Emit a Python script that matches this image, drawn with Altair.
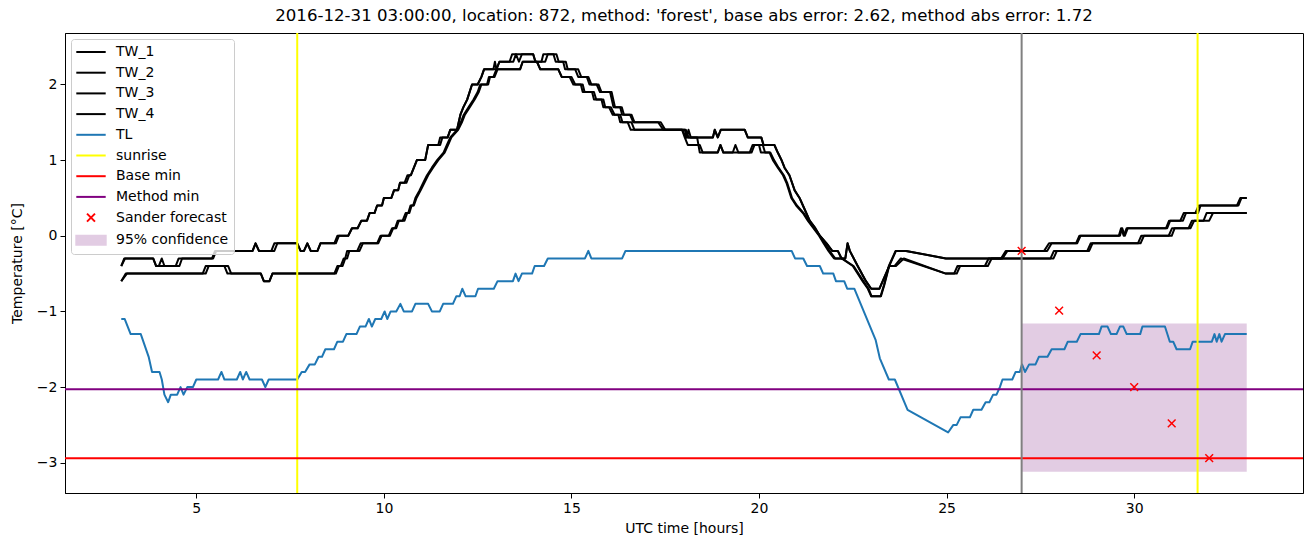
import altair as alt
import pandas as pd

TITLE = "2016-12-31 03:00:00, location: 872, method: 'forest', base abs error: 2.62, method abs error: 1.72"

TW_1 = [(3.00,-0.4),(3.08,-0.3),(3.85,-0.3),(3.93,-0.4),(4.00,-0.4),(4.08,-0.3),(4.15,-0.4),(4.45,-0.4),(4.53,-0.3),
        (5.42,-0.3),(5.50,-0.2),(6.50,-0.2),(6.58,-0.1),(6.67,-0.2),(7.00,-0.2),(7.08,-0.1),(7.69,-0.1),(7.78,-0.2),
        (7.87,-0.2),(7.96,-0.1),(8.05,-0.2),(8.23,-0.2),(8.31,-0.1),(8.68,-0.1),(8.76,0.0),(9.05,0.0),(9.15,0.1),
        (9.30,0.1),(9.40,0.2),(9.55,0.2),(9.62,0.3),(9.75,0.3),(9.82,0.4),(9.95,0.4),(10.00,0.5),(10.20,0.5),
        (10.27,0.6),(10.38,0.6),(10.43,0.7),(10.55,0.7),(10.63,0.8),(10.72,0.8),(10.80,0.9),(10.88,1.0),(11.10,1.0),
        (11.18,1.2),(11.45,1.2),(11.50,1.3),(11.70,1.3),(11.77,1.4),(11.95,1.4),(12.04,1.6),(12.12,1.7),(12.22,1.8),
        (12.35,2.0),(12.50,2.0),(12.60,2.1),(12.67,2.2),(12.92,2.2),(12.96,2.3),(13.00,2.2),(13.08,2.3),(13.35,2.3),
        (13.42,2.4),(13.98,2.4),(14.04,2.3),(14.20,2.3),(14.25,2.4),(14.52,2.4),(14.58,2.3),(14.78,2.3),(14.83,2.2),
        (15.10,2.2),(15.18,2.1),(15.41,2.1),(15.48,2.0),(15.67,2.0),(15.76,1.9),(16.03,1.9),(16.12,1.7),(16.30,1.7),
        (16.35,1.6),(16.56,1.6),(16.65,1.5),(17.31,1.5),(17.45,1.4),(18.02,1.4),(18.07,1.3),(18.12,1.4),(18.18,1.3),
        (18.77,1.3),
        (18.82,1.4),(18.90,1.3),(18.98,1.4),(19.62,1.4),(19.70,1.3),(20.06,1.3),(20.12,1.2),(20.41,1.2),(20.50,1.1),
        (20.60,1.0),(20.68,0.9),(20.81,0.8),(20.95,0.6),(21.08,0.5),(21.17,0.4),(21.35,0.2),(21.50,0.1),(21.62,0.0),
        (21.80,-0.1),(21.95,-0.2),(22.10,-0.2),(22.20,-0.3),(22.30,-0.3),(22.36,-0.1),(22.42,-0.2),(22.63,-0.4),
        (22.85,-0.6),(22.99,-0.7),(23.21,-0.7),(23.47,-0.4),(23.61,-0.4),(23.78,-0.3),(24.98,-0.5),(25.20,-0.5),
        (25.29,-0.4),(26.10,-0.4),(26.20,-0.3),(27.77,-0.3),(27.86,-0.2),(28.75,-0.2),(28.84,-0.1),(30.17,-0.1),
        (30.26,0.0),(30.92,0.0),(31.01,0.1),(31.45,0.1),(31.54,0.2),(31.85,0.2),(31.93,0.3),(33.00,0.3)]

TW_2 = [(3.00,-0.4),(3.10,-0.3),(3.85,-0.3),(3.93,-0.4),(4.55,-0.4),(4.62,-0.3),(5.45,-0.3),(5.53,-0.2),(6.50,-0.2),
        (6.58,-0.1),(6.67,-0.2),(7.08,-0.2),(7.16,-0.1),(7.69,-0.1),(7.78,-0.2),(7.87,-0.2),(7.96,-0.1),(8.05,-0.2),
        (8.23,-0.2),(8.31,-0.1),(8.72,-0.1),(8.80,0.0),(9.05,0.0),(9.15,0.1),(9.30,0.1),(9.40,0.2),(9.55,0.2),
        (9.62,0.3),(9.75,0.3),(9.82,0.4),(9.95,0.4),(10.00,0.5),(10.20,0.5),(10.27,0.6),(10.38,0.6),(10.43,0.7),
        (10.60,0.7),(10.68,0.8),(10.72,0.8),(10.80,0.9),(10.88,1.0),(11.10,1.0),(11.18,1.2),(11.50,1.2),(11.56,1.3),
        (11.70,1.3),(11.77,1.4),(11.95,1.4),(12.04,1.6),(12.12,1.7),(12.22,1.8),(12.35,2.0),(12.50,2.0),(12.60,2.1),
        (12.67,2.2),(13.00,2.2),(13.08,2.3),(13.45,2.3),(13.52,2.4),(13.60,2.3),(13.68,2.4),(13.98,2.4),(14.04,2.3),
        (14.30,2.3),(14.37,2.4),(14.60,2.4),(14.66,2.3),(14.85,2.3),(14.90,2.2),(15.18,2.2),(15.26,2.1),(15.45,2.1),
        (15.53,2.0),(15.72,2.0),(15.80,1.9),(16.07,1.9),(16.16,1.7),(16.34,1.7),(16.40,1.6),(16.60,1.6),(16.68,1.5),
        (17.38,1.5),(17.50,1.4),(18.05,1.4),(18.12,1.3),(18.77,1.3),(18.82,1.4),(18.90,1.3),(18.98,1.4),
        (19.62,1.4),(19.70,1.3),(20.06,1.3),(20.12,1.2),(20.41,1.2),(20.50,1.1),(20.60,1.0),(20.68,0.9),(20.81,0.8),
        (20.95,0.6),(21.08,0.5),(21.17,0.4),(21.35,0.2),(21.50,0.1),(21.62,0.0),(21.80,-0.1),(21.95,-0.2),(22.10,-0.2),
        (22.20,-0.3),(22.30,-0.3),(22.36,-0.1),(22.42,-0.2),(22.63,-0.4),(22.85,-0.6),(22.99,-0.7),(23.21,-0.7),
        (23.47,-0.4),(23.65,-0.4),(23.86,-0.3),(24.98,-0.5),(25.27,-0.5),(25.36,-0.4),(26.02,-0.4),(26.12,-0.3),
        (27.85,-0.3),(27.94,-0.2),(28.80,-0.2),(28.89,-0.1),(30.10,-0.1),(30.19,0.0),(31.00,0.0),(31.08,0.1),
        (31.50,0.1),(31.60,0.2),(32.00,0.2),(32.10,0.3),(33.00,0.3)]

TW_3 = [(3.00,-0.6),(3.12,-0.5),(5.17,-0.5),(5.25,-0.4),(5.75,-0.4),(5.83,-0.5),(6.72,-0.5),(6.80,-0.6),(6.95,-0.6),
        (7.03,-0.5),(8.68,-0.5),(8.76,-0.4),(8.85,-0.4),(8.93,-0.3),(8.97,-0.3),(9.02,-0.2),(9.29,-0.2),(9.38,-0.1),
        (9.82,-0.1),(9.91,0.0),(10.13,0.0),(10.22,0.1),(10.30,0.1),(10.37,0.2),(10.50,0.2),(10.58,0.3),(10.65,0.3),
        (10.71,0.4),(10.78,0.4),(10.84,0.5),(10.95,0.6),(11.05,0.7),(11.15,0.8),(11.28,0.9),(11.42,1.0),(11.59,1.1),
        (11.68,1.2),(11.77,1.3),(11.95,1.4),(12.05,1.5),(12.13,1.6),(12.26,1.7),(12.39,1.8),(12.50,1.9),(12.57,2.0),
        (12.75,2.0),(12.80,2.1),(12.92,2.1),(13.00,2.2),(13.63,2.2),(13.70,2.3),(14.08,2.3),(14.17,2.2),(14.65,2.2),
        (14.74,2.1),(14.95,2.1),(15.05,2.0),(15.25,2.0),(15.30,1.9),(15.55,1.9),(15.60,1.8),(15.80,1.8),(15.85,1.7),
        (16.00,1.7),(16.10,1.6),(16.25,1.6),(16.30,1.5),(16.50,1.5),(16.58,1.4),(17.95,1.4),(18.02,1.3),(18.10,1.2),
        (18.42,1.2),(18.50,1.1),(18.90,1.1),(18.97,1.2),(19.05,1.1),(19.30,1.1),(19.37,1.2),(19.45,1.1),(19.80,1.1),
        (19.88,1.2),(20.00,1.2),(20.05,1.1),(20.28,1.1),(20.37,1.0),(20.50,0.9),(20.64,0.8),(20.73,0.7),(20.86,0.5),
        (20.99,0.4),(21.17,0.3),(21.30,0.2),(21.45,0.1),(21.60,0.0),(21.72,-0.1),(21.85,-0.2),(22.00,-0.3),(22.20,-0.3),
        (22.50,-0.4),(22.76,-0.6),(22.90,-0.7),(22.99,-0.8),(23.25,-0.8),(23.34,-0.65),(23.47,-0.4),(23.56,-0.3),
        (23.65,-0.2),(23.92,-0.2),(24.98,-0.3),(26.49,-0.3),(26.62,-0.2),(27.60,-0.2),(27.73,-0.1),(28.48,-0.1),
        (28.57,0.0),(29.59,0.0),(29.65,0.1),(29.72,0.0),(29.80,0.1),(30.88,0.1),(30.96,0.2),(31.23,0.2),(31.32,0.3),
        (31.63,0.3),(31.72,0.4),(32.74,0.4),(32.83,0.5),(33.00,0.5)]

TW_4 = [(3.00,-0.6),(3.15,-0.5),(5.25,-0.5),(5.33,-0.4),(5.85,-0.4),(5.93,-0.5),(6.72,-0.5),(6.80,-0.6),(6.95,-0.6),
        (7.03,-0.5),(8.72,-0.5),(8.80,-0.4),(8.90,-0.4),(8.97,-0.3),(9.02,-0.3),(9.08,-0.2),(9.35,-0.2),(9.44,-0.1),
        (9.85,-0.1),(9.94,0.0),(10.16,0.0),(10.25,0.1),(10.33,0.1),(10.40,0.2),(10.55,0.2),(10.62,0.3),(10.68,0.3),
        (10.74,0.4),(10.80,0.4),(10.87,0.5),(10.98,0.6),(11.08,0.7),(11.18,0.8),(11.31,0.9),(11.45,1.0),(11.62,1.1),
        (11.71,1.2),(11.80,1.3),(11.98,1.4),(12.08,1.5),(12.16,1.6),(12.29,1.7),(12.42,1.8),(12.53,1.9),(12.60,2.0),
        (12.78,2.0),(12.83,2.1),(12.95,2.1),(13.03,2.2),(13.63,2.2),(13.70,2.3),(14.08,2.3),(14.17,2.2),(14.65,2.2),
        (14.74,2.1),(15.00,2.1),(15.10,2.0),(15.30,2.0),(15.35,1.9),(15.60,1.9),(15.66,1.8),(15.85,1.8),(15.90,1.7),
        (16.05,1.7),(16.15,1.6),(16.30,1.6),(16.36,1.5),(16.60,1.5),(16.68,1.4),(17.95,1.4),(18.05,1.3),(18.35,1.3),
        (18.42,1.1),(18.90,1.1),(18.97,1.2),(19.05,1.1),(19.75,1.1),(19.83,1.2),(20.10,1.2),(20.16,1.1),(20.30,1.1),
        (20.40,1.0),(20.52,0.9),(20.66,0.8),(20.75,0.7),(20.88,0.5),(21.01,0.4),(21.19,0.3),(21.32,0.2),(21.47,0.1),
        (21.62,0.0),(21.75,-0.1),(21.88,-0.2),(22.03,-0.3),(22.22,-0.3),(22.52,-0.4),(22.78,-0.6),(22.92,-0.7),
        (23.00,-0.8),(23.24,-0.8),(23.33,-0.65),(23.46,-0.4),(23.55,-0.3),(23.64,-0.2),(23.92,-0.2),(24.98,-0.3),
        (26.45,-0.3),(26.58,-0.2),(27.68,-0.2),(27.80,-0.1),(28.45,-0.1),(28.54,0.0),(29.62,0.0),(29.68,0.1),
        (29.75,0.0),(29.83,0.1),(30.85,0.1),(30.93,0.2),(31.30,0.2),(31.38,0.3),(31.70,0.3),(31.77,0.4),(32.78,0.4),
        (32.86,0.5),(33.00,0.5)]

TL = [(3.00,-1.1),(3.09,-1.1),(3.25,-1.3),(3.52,-1.3),(3.73,-1.6),(3.82,-1.8),(4.02,-1.8),(4.08,-1.9),(4.15,-2.1),
      (4.25,-2.2),(4.32,-2.1),(4.49,-2.1),(4.58,-2.0),(4.66,-2.1),(4.76,-2.0),(4.91,-2.0),(5.00,-1.9),(5.58,-1.9),
      (5.67,-1.8),(5.75,-1.9),(6.08,-1.9),(6.17,-1.8),(6.24,-1.9),(6.33,-1.8),(6.42,-1.9),(6.75,-1.9),(6.84,-2.0),
      (6.93,-1.9),(7.69,-1.9),(7.81,-1.8),(7.90,-1.8),(8.02,-1.7),(8.16,-1.7),(8.26,-1.6),(8.35,-1.6),(8.44,-1.5),
      (8.67,-1.5),(8.76,-1.4),(8.91,-1.4),(9.00,-1.3),(9.27,-1.3),(9.36,-1.2),(9.51,-1.2),(9.60,-1.1),(9.68,-1.2),
      (9.77,-1.1),(9.93,-1.1),(10.02,-1.0),(10.09,-1.1),(10.18,-1.0),(10.33,-1.0),(10.44,-0.9),(10.53,-1.0),
      (10.75,-1.0),(10.84,-0.9),(11.18,-0.9),(11.28,-1.0),(11.49,-1.0),(11.58,-0.9),(11.84,-0.9),(11.93,-0.8),
      (12.02,-0.8),(12.09,-0.7),(12.18,-0.8),(12.44,-0.8),(12.51,-0.7),(12.93,-0.7),(13.03,-0.6),(13.44,-0.6),
      (13.51,-0.5),(13.59,-0.6),(13.68,-0.5),(13.95,-0.5),(14.02,-0.4),(14.27,-0.4),(14.37,-0.3),(15.36,-0.3),
      (15.45,-0.2),(15.53,-0.3),(16.35,-0.3),(16.44,-0.2),(20.87,-0.2),(20.96,-0.3),(21.18,-0.3),(21.28,-0.4),
      (21.62,-0.4),(21.71,-0.5),(21.98,-0.5),(22.05,-0.6),(22.27,-0.6),(22.35,-0.7),(22.54,-0.7),(23.11,-1.38),
      (23.22,-1.62),(23.46,-1.9),(23.62,-1.9),(23.96,-2.3),(25.04,-2.6),(25.18,-2.5),(25.27,-2.5),(25.37,-2.4),
      (25.62,-2.4),(25.71,-2.3),(25.93,-2.3),(26.04,-2.2),(26.14,-2.2),(26.24,-2.1),(26.33,-2.1),(26.42,-2.0),
      (26.49,-1.9),(26.75,-1.9),(26.84,-1.8),(26.95,-1.8),(27.01,-1.7),(27.09,-1.8),(27.20,-1.7),(27.37,-1.7),
      (27.46,-1.6),(27.69,-1.6),(27.80,-1.5),(28.14,-1.5),(28.23,-1.4),(28.47,-1.4),(28.57,-1.3),(29.06,-1.3),
      (29.13,-1.2),(29.29,-1.2),(29.38,-1.3),(29.53,-1.3),(29.62,-1.2),(29.71,-1.2),(29.80,-1.3),(30.16,-1.3),
      (30.22,-1.2),(30.82,-1.2),(30.95,-1.4),(31.04,-1.4),(31.13,-1.5),(31.49,-1.5),(31.56,-1.4),(32.07,-1.4),
      (32.14,-1.3),(32.20,-1.4),(32.27,-1.3),(32.33,-1.4),(32.42,-1.3),(33.00,-1.3)]

SUNRISE_HOURS = [7.69, 31.69]
NOW_HOUR = [27.0]
BASE_MIN = [-2.94]
METHOD_MIN = [-2.03]
FORECAST_HOURS = [27, 28, 29, 30, 31, 32]
FORECAST_VALUES = [-0.2, -0.99, -1.58, -2.0, -2.48, -2.94]
CONF_HOURS = [27.0, 33.0]
CONF_BOUNDS = [-3.12, -1.16]

X_TICKS = [5, 10, 15, 20, 25, 30]
Y_TICKS = [-3, -2, -1, 0, 1, 2]
X_DOMAIN = [1.5, 34.5]
Y_DOMAIN = [-3.4, 2.68]

LEGEND_LABELS = ["TW_1", "TW_2", "TW_3", "TW_4", "TL", "sunrise", "Base min", "Method min",
                 "Sander forecast", "95% confidence"]
LEGEND_COLORS = ["#000000", "#000000", "#000000", "#000000", "#1f77b4", "#ffff00", "#ff0000",
                 "#800080", "#ff0000", "#e2cce3"]
LINE_SYMBOL = "M-2.1,0H2.1"
X_SYMBOL = "M-0.57,-0.57L0.57,0.57M-0.57,0.57L0.57,-0.57"
BOX_SYMBOL = "M-2.1,-0.64H2.1V0.64H-2.1Z"
LEGEND_SHAPES = [LINE_SYMBOL] * 8 + [X_SYMBOL, BOX_SYMBOL]

FONT = "DejaVu Sans"

rows = []
for name, pts in [("TW_1", TW_1), ("TW_2", TW_2), ("TW_3", TW_3), ("TW_4", TW_4)]:
    for i, (t, v) in enumerate(pts):
        rows.append({"series": name, "t": t, "v": v, "i": i})
tw_df = pd.DataFrame(rows)
tl_df = pd.DataFrame([{"t": t, "v": v, "i": i} for i, (t, v) in enumerate(TL)])

xs = alt.Scale(domain=X_DOMAIN, nice=False, zero=False)
ys = alt.Scale(domain=Y_DOMAIN, nice=False, zero=False)

x_axis = alt.Axis(values=X_TICKS, title="UTC time [hours]", grid=False, format="d",
                  tickSize=5, labelPadding=3, titlePadding=6)
y_axis = alt.Axis(values=Y_TICKS, title="Temperature [°C]", grid=False, format="d",
                  tickSize=5, labelPadding=3, titlePadding=12)

conf_df = pd.DataFrame({"x": [CONF_HOURS[0]], "x2": [CONF_HOURS[1]],
                        "y": [CONF_BOUNDS[0]], "y2": [CONF_BOUNDS[1]]})
band = alt.Chart(conf_df).mark_rect(color="#e2cce3").encode(
    x=alt.X("x:Q", scale=xs, axis=x_axis), x2="x2:Q",
    y=alt.Y("y:Q", scale=ys, axis=y_axis), y2="y2:Q")

tw_lines = alt.Chart(tw_df).mark_line(color="black", strokeWidth=2, strokeJoin="round").encode(
    x=alt.X("t:Q", scale=xs), y=alt.Y("v:Q", scale=ys), detail="series:N", order="i:Q")

tl_line = alt.Chart(tl_df).mark_line(color="#1f77b4", strokeWidth=2, strokeJoin="round").encode(
    x=alt.X("t:Q", scale=xs), y=alt.Y("v:Q", scale=ys), order="i:Q")

sunrise = alt.Chart(pd.DataFrame({"t": SUNRISE_HOURS})).mark_rule(color="#ffff00", strokeWidth=2).encode(
    x=alt.X("t:Q", scale=xs))
now_rule = alt.Chart(pd.DataFrame({"t": NOW_HOUR})).mark_rule(color="#808080", strokeWidth=2).encode(
    x=alt.X("t:Q", scale=xs))
base_rule = alt.Chart(pd.DataFrame({"v": BASE_MIN})).mark_rule(color="#ff0000", strokeWidth=2).encode(
    y=alt.Y("v:Q", scale=ys))
method_rule = alt.Chart(pd.DataFrame({"v": METHOD_MIN})).mark_rule(color="#800080", strokeWidth=2).encode(
    y=alt.Y("v:Q", scale=ys))

fc_df = pd.DataFrame({"t": FORECAST_HOURS, "v": FORECAST_VALUES})
forecast = alt.Chart(fc_df).mark_point(shape="M-1,-1L1,1M-1,1L1,-1", size=60, filled=False,
                                       color="#ff0000", strokeWidth=1.5, opacity=1).encode(
    x=alt.X("t:Q", scale=xs), y=alt.Y("v:Q", scale=ys))

legend_df = pd.DataFrame({"label": LEGEND_LABELS})
leg = alt.Legend(orient="top-left", offset=6, title=None, padding=5, symbolOffset=7,
                 labelOffset=17, rowPadding=5.7, labelFontSize=14, labelFont=FONT, labelColor="black",
                 symbolSize=196, symbolStrokeWidth=2, strokeColor="#cccccc",
                 fillColor="rgba(255,255,255,0.8)", cornerRadius=3, symbolOpacity=1)
legend_layer = alt.Chart(legend_df).transform_filter("false").mark_point(
    filled=True, opacity=1, size=196).encode(
    fill=alt.Fill("label:N", scale=alt.Scale(domain=LEGEND_LABELS, range=LEGEND_COLORS), legend=leg),
    stroke=alt.Stroke("label:N", scale=alt.Scale(domain=LEGEND_LABELS, range=LEGEND_COLORS), legend=leg),
    shape=alt.Shape("label:N", scale=alt.Scale(domain=LEGEND_LABELS, range=LEGEND_SHAPES), legend=leg),
)

chart = alt.layer(band, tw_lines, tl_line, sunrise, base_rule, method_rule, now_rule, forecast,
                  legend_layer).properties(
    width=1238, height=460,
    title=alt.Title(TITLE, fontSize=16.6, font=FONT, fontWeight="normal", color="black",
                    anchor="middle", offset=7),
    autosize=alt.AutoSizeParams(type="none"),
    padding={"left": 65, "top": 33, "right": 10, "bottom": 54},
).configure_view(stroke="black", strokeWidth=1).configure_axis(
    labelFont=FONT, titleFont=FONT, labelFontSize=14, titleFontSize=14, labelColor="black",
    titleColor="black", titleFontWeight="normal", domainColor="black", tickColor="black",
    domainWidth=1, tickWidth=1)

chart.save("out.html", embed_options={"renderer": "svg", "actions": False})
